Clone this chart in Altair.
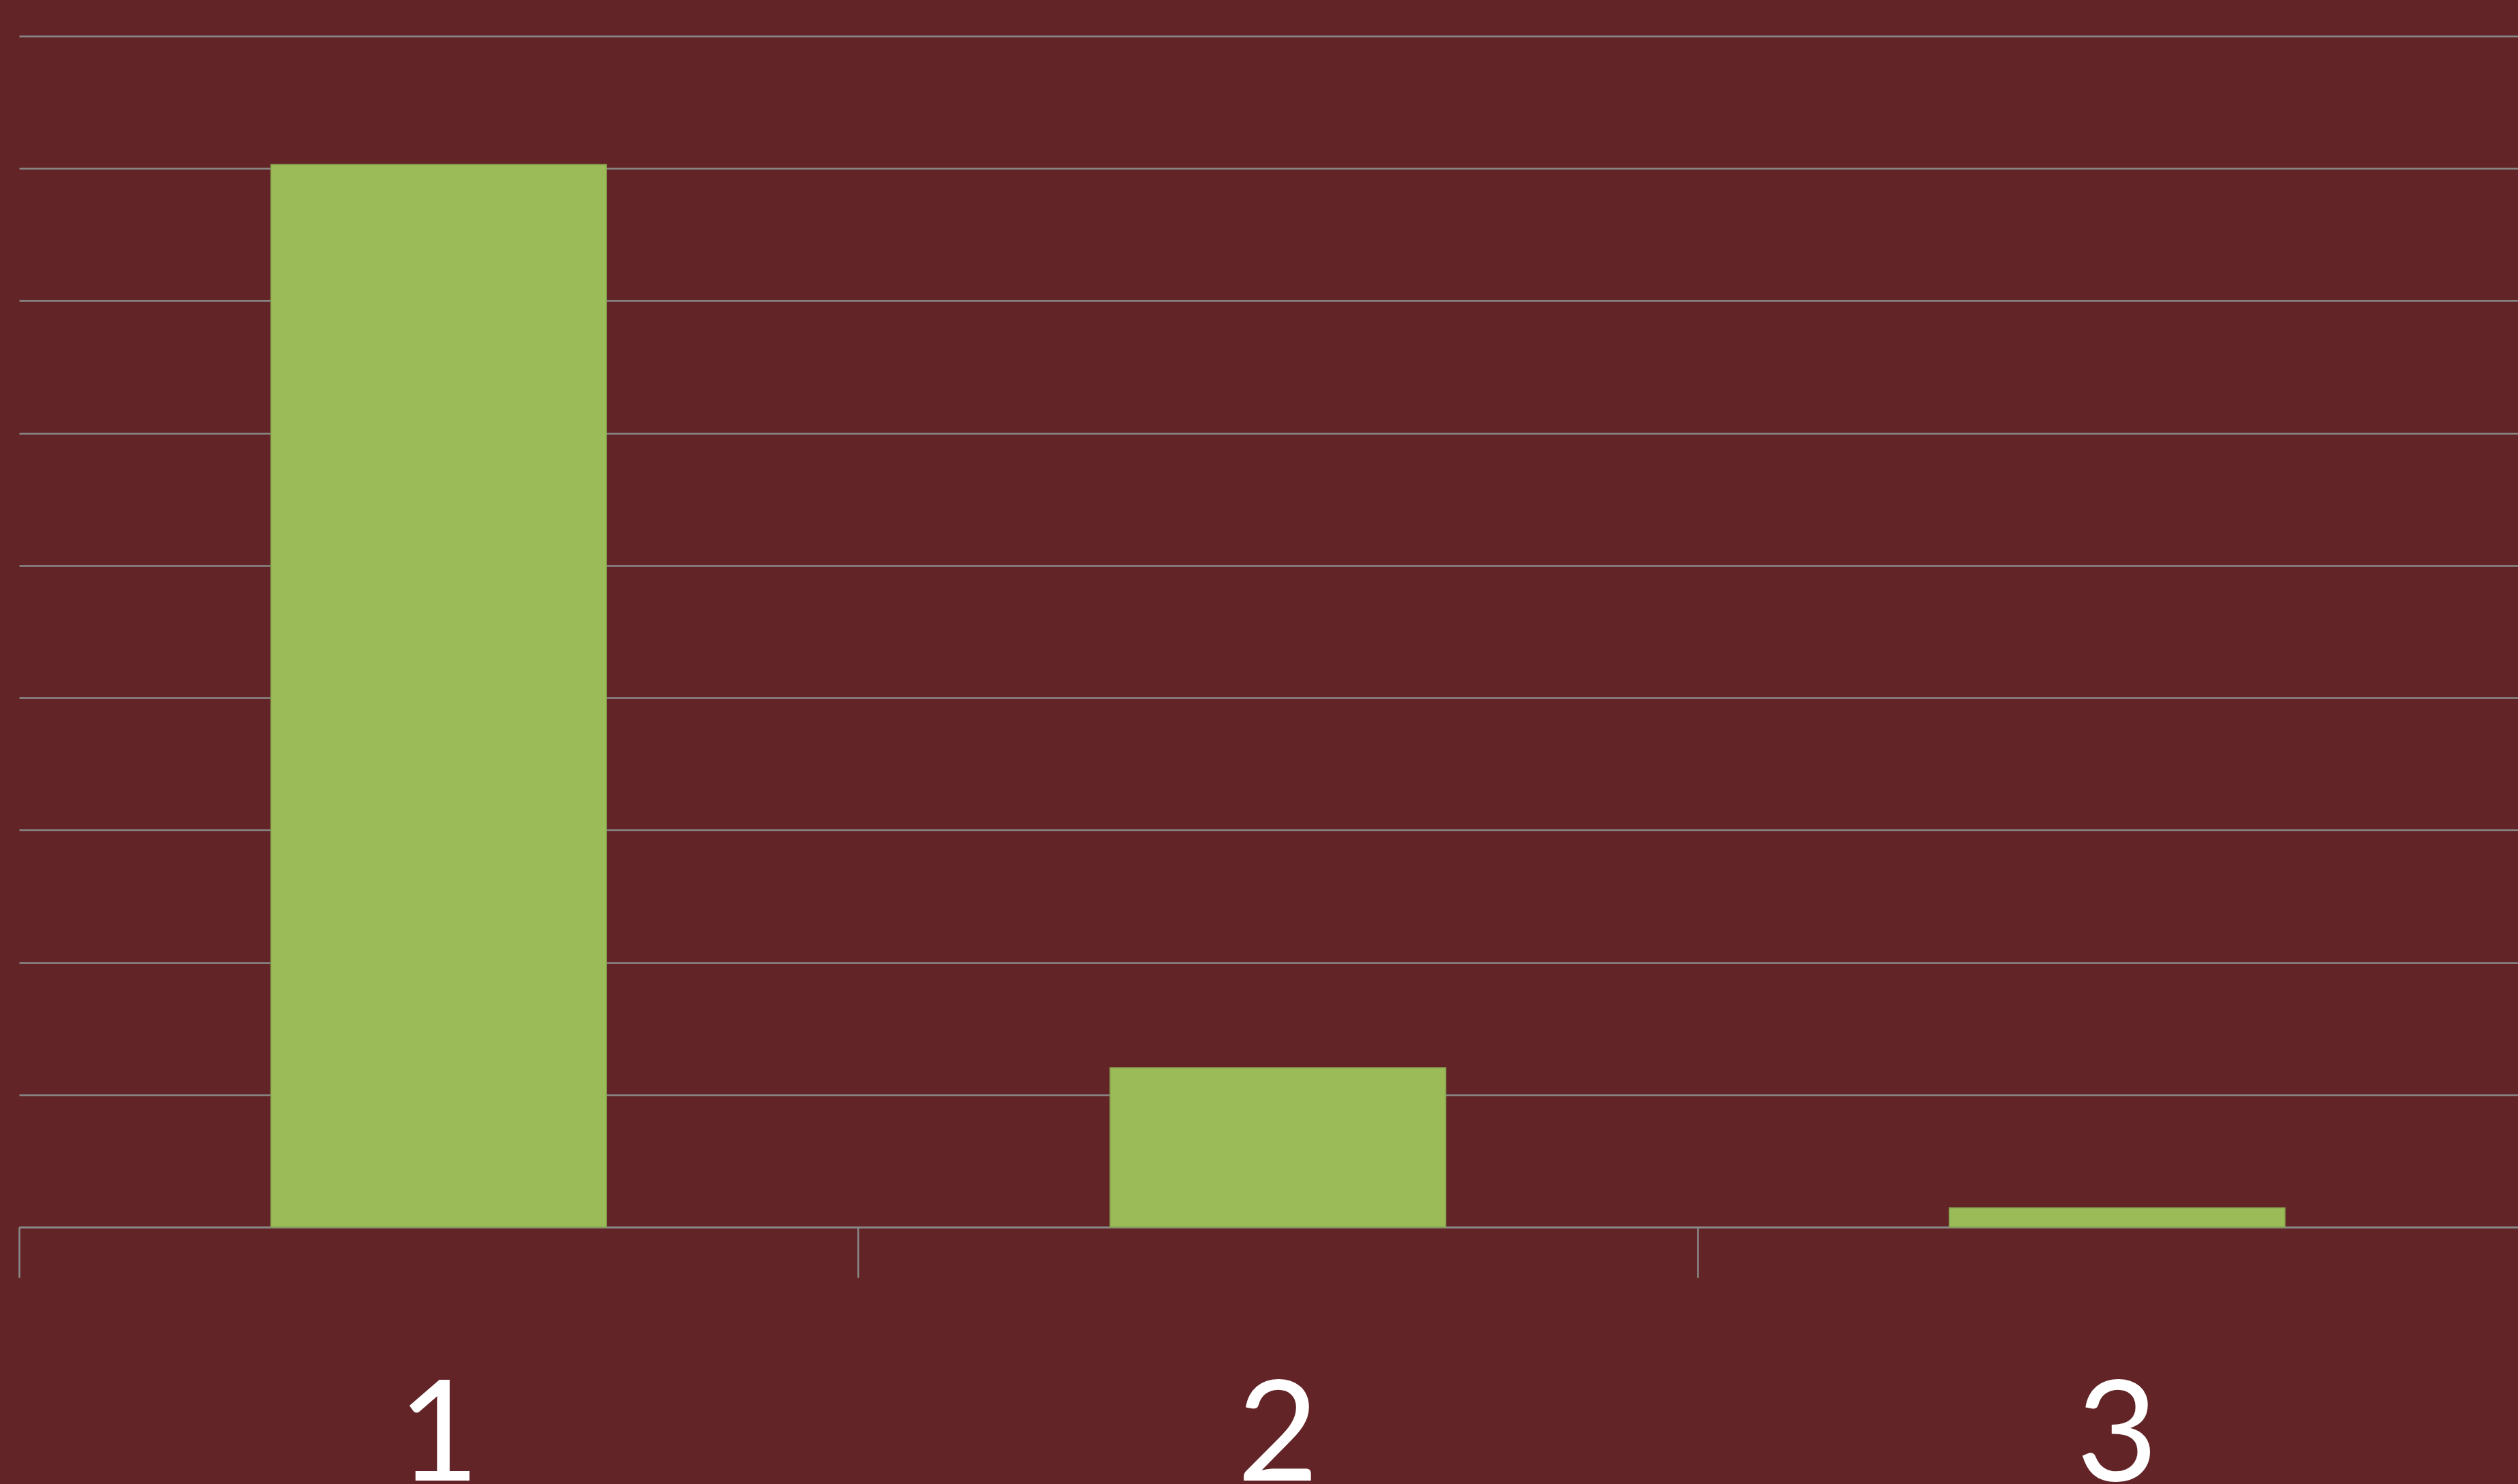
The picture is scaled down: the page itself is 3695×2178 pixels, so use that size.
import altair as alt
import pandas as pd

categories = ["1", "2", "3"]
values = [8.03, 1.205, 0.146]
y_ticks = [0, 1, 2, 3, 4, 5, 6, 7, 8, 9]

df = pd.DataFrame({"category": categories, "value": values})

BG = "#622426"
GRID = "#8a8a8a"

chart = alt.Chart(df).mark_bar(
    color="#9BBB59", stroke="#86a04c", strokeWidth=1.5
).encode(
    x=alt.X(
        "category:N",
        sort=categories,
        scale=alt.Scale(paddingInner=0.6, paddingOuter=0.3, range=[0, 3694.5]),
        axis=alt.Axis(
            title=None,
            labelAngle=0,
            labelFont="Lato",
            labelFontSize=206,
            labelColor="#ffffff",
            labelBaseline="alphabetic",
            labelPadding=297,
            bandPosition=-0.75,
            tickSize=74,
            tickWidth=2.5,
            tickColor=GRID,
            domainColor=GRID,
            domainWidth=2.5,
            grid=False,
        ),
    ),
    y=alt.Y(
        "value:Q",
        scale=alt.Scale(domain=[0, 9], nice=False, zero=True),
        axis=alt.Axis(
            title=None,
            values=y_ticks,
            labels=False,
            ticks=False,
            domain=False,
            grid=True,
            gridColor=GRID,
            gridWidth=2.5,
        ),
    ),
).properties(
    width=3667,
    height=1748,
    background=BG,
    padding={"left": 28, "top": 53, "right": 0, "bottom": 377},
    autosize=alt.AutoSizeParams(type="none"),
).configure_view(stroke=None)

chart.save("out.html", embed_options={"renderer": "svg", "actions": False})
